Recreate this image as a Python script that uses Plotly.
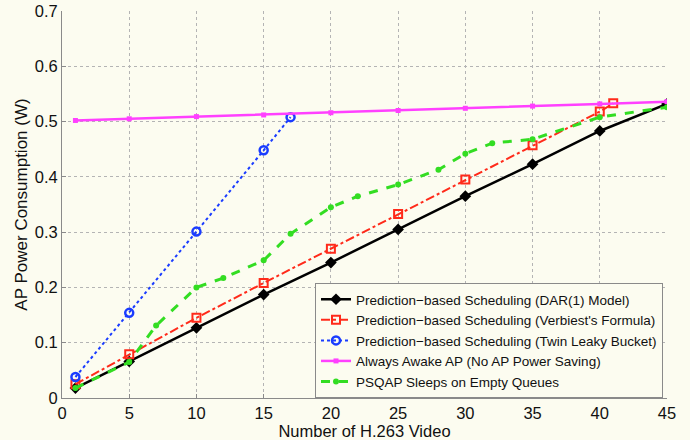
import plotly.graph_objects as go

# Data
x_dar = [1, 5, 10, 15, 20, 25, 30, 35, 40, 45]
y_dar = [0.018, 0.066, 0.127, 0.187, 0.245, 0.305, 0.365, 0.423, 0.483, 0.532]

x_verb = [1, 5, 10, 15, 20, 25, 30, 35, 40, 41]
y_verb = [0.025, 0.079, 0.145, 0.208, 0.270, 0.333, 0.395, 0.457, 0.518, 0.533]

x_twin = [1, 5, 10, 15, 17]
y_twin = [0.038, 0.154, 0.301, 0.448, 0.508]

x_awake = [1, 5, 10, 15, 20, 25, 30, 35, 40, 45]
y_awake = [0.502, 0.505, 0.509, 0.512, 0.516, 0.520, 0.524, 0.528, 0.532, 0.536]

x_psqap = [1, 5, 7, 10, 12, 15, 17, 20, 22, 25, 28, 30, 32, 35, 40, 45]
y_psqap = [0.018, 0.065, 0.131, 0.200, 0.217, 0.249, 0.297, 0.345, 0.365, 0.386,
           0.413, 0.442, 0.461, 0.468, 0.508, 0.526]

names = [
    "Prediction−based Scheduling (DAR(1) Model)",
    "Prediction−based Scheduling (Verbiest's Formula)",
    "Prediction−based Scheduling (Twin Leaky Bucket)",
    "Always Awake AP (No AP Power Saving)",
    "PSQAP Sleeps on Empty Queues",
]

x_ticks = [0, 5, 10, 15, 20, 25, 30, 35, 40, 45]
y_ticks = [0, 0.1, 0.2, 0.3, 0.4, 0.5, 0.6, 0.7]
y_tick_text = ["0", "0.1", "0.2", "0.3", "0.4", "0.5", "0.6", "0.7"]

BG = "#fcfcf0"
FONT = "Liberation Sans, Arial, sans-serif"

fig = go.Figure()
fig.add_trace(go.Scatter(
    x=x_dar, y=y_dar, name=names[0], mode="lines+markers",
    line=dict(color="#000000", width=2.5),
    marker=dict(symbol="diamond", size=9, color="#000000")))
fig.add_trace(go.Scatter(
    x=x_verb, y=y_verb, name=names[1], mode="lines+markers",
    line=dict(color="#ff2a1a", width=2, dash="dashdot"),
    marker=dict(symbol="square-open", size=8, color="#ff2a1a", line=dict(width=2))))
fig.add_trace(go.Scatter(
    x=x_twin, y=y_twin, name=names[2], mode="lines+markers",
    line=dict(color="#1a3cff", width=2, dash="dot"),
    marker=dict(symbol="circle-open", size=8, color="#1a3cff", line=dict(width=2.5))))
fig.add_trace(go.Scatter(
    x=x_awake, y=y_awake, name=names[3], mode="lines+markers",
    line=dict(color="#ff40ff", width=2.5),
    marker=dict(symbol="square", size=5, color="#ff40ff")))
fig.add_trace(go.Scatter(
    x=x_psqap, y=y_psqap, name=names[4], mode="lines+markers",
    line=dict(color="#33dd22", width=3, dash="dash"),
    marker=dict(symbol="circle", size=6, color="#33dd22")))

axis_common = dict(
    showgrid=True, gridcolor="#b4b4b4", griddash="dot", gridwidth=1,
    showline=True, linecolor="#8a8a8a", linewidth=1,
    ticks="inside", ticklen=4, tickcolor="#8a8a8a",
    zeroline=False, mirror=False,
    tickfont=dict(family=FONT, size=16.5, color="#111111"),
)

fig.update_layout(
    width=690, height=440,
    margin=dict(l=62, r=23, t=11, b=42, autoexpand=False),
    paper_bgcolor=BG, plot_bgcolor=BG,
    font=dict(family=FONT, color="#111111"),
    xaxis=dict(range=[0, 45], tickvals=x_ticks,
               title=dict(text="Number of H.263 Video", font=dict(family=FONT, size=16.5), standoff=8),
               **axis_common),
    yaxis=dict(range=[0, 0.7], tickvals=y_ticks, ticktext=y_tick_text,
               title=dict(text="AP Power Consumption (W)", font=dict(family=FONT, size=17), standoff=2),
               **axis_common),
    legend=dict(x=0.9934, y=0.0, xanchor="right", yanchor="bottom",
                bgcolor=BG, bordercolor="#8a8a8a", borderwidth=1,
                font=dict(family=FONT, size=13.5, color="#111111"),
                itemwidth=30, tracegroupgap=0),
    showlegend=True,
)

fig.write_html("out.html")
